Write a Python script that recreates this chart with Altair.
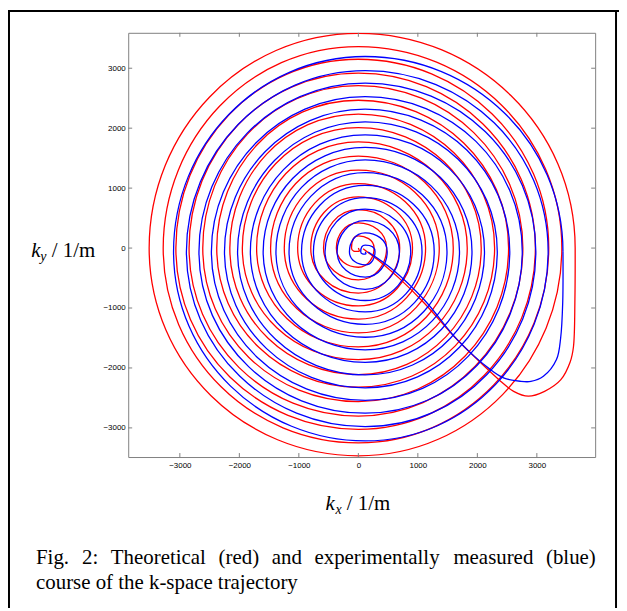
import altair as alt
import pandas as pd

# ---------------- data (k-space, 1/m) ----------------
# Theoretical trajectory (red): crossings of the spiral with the lines through its centre
red_cx, red_cy = 0, 0
red_right_kx = [0, 265, 475, 695, 910, 1130, 1360, 1595, 1830, 2065, 2290, 2525, 2765, 2975, 3200, 3420, 3644]
red_bottom_ky = [-55, -320, -530, -750, -965, -1185, -1415, -1650, -1862, -2111, -2320, -2560, -2803, -3023, -3250, -3466]
red_left_kx = [-115, -370, -585, -800, -1020, -1245, -1475, -1710, -1950, -2160, -2380, -2615, -2845, -3067, -3280, -3516]
red_top_ky = [205, 420, 640, 855, 1075, 1300, 1535, 1770, 2010, 2235, 2466, 2710, 2919, 3150, 3361, 3582]
# tangent guides before the first and after the last crossing (continuation of the spiral)
red_guide_start = (-40, 40)
red_guide_end = (0, -3691)
# rewinder (hook back to the centre)
red_rewind_kx = [3644, 3640, 3615, 3560, 3400, 3130, 2857, 2610, 2390, 2000, 1610, 1110, 720, 335, 80]
red_rewind_ky = [0, -850, -1650, -1900, -2200, -2390, -2471, -2390, -2220, -1860, -1475, -920, -535, -205, -10]

# Measured trajectory (blue)
blue_cx, blue_cy = 115, -60
blue_right_kx = [115, 280, 485, 690, 880, 1070, 1275, 1490, 1700, 1910, 2120, 2335, 2545, 2755, 2983, 3190, 3439]
blue_bottom_ky = [-100, -280, -485, -688, -875, -1065, -1272, -1488, -1697, -1906, -2117, -2332, -2540, -2755, -2980, -3217]
blue_left_kx = [40, -150, -357, -560, -755, -955, -1165, -1385, -1600, -1815, -2030, -2250, -2470, -2679, -2890, -3106]
blue_top_ky = [50, 255, 459, 650, 841, 1045, 1260, 1471, 1680, 1890, 2106, 2317, 2525, 2753, 2960, 3196]
blue_guide_start = (75, -20)
blue_guide_end = (115, -3427)
blue_rewind_kx = [3439, 3435, 3400, 3330, 3110, 2900, 2718, 2440, 2220, 1665, 1110, 555, 165]
blue_rewind_ky = [-60, -900, -1500, -1860, -2140, -2225, -2222, -2166, -2028, -1531, -867, -342, -66]

x_ticks = [-3000, -2000, -1000, 0, 1000, 2000, 3000]
y_ticks = [-3000, -2000, -1000, 0, 1000, 2000, 3000]

caption_line1 = ["Fig.", "2:", "Theoretical", "(red)", "and", "experimentally", "measured", "(blue)"]
caption_line2 = "course of the k-space trajectory"

# ---------------- layout ----------------
W, H = 470, 427
PAD = {"left": 121, "top": 23, "right": 24, "bottom": 152}
X_DOMAIN = [-3868, 3980]
Y_DOMAIN = [-3486, 3591]
GRAY = "#808080"
RED = "#ff0000"
BLUE = "#0000ff"
caption_x = [-92.8, -46.5, -17.5, 91, 144.5, 187.5, 327.3, 420.5]


def spiral_frame(cx, cy, right, bottom, left, top, g0, g1):
    xs, ys = [g0[0]], [g0[1]]
    for k in range(len(top)):
        xs += [right[k], cx, left[k], cx]
        ys += [cy, bottom[k], cy, top[k]]
    xs += [right[len(top)], g1[0]]
    ys += [cy, g1[1]]
    return pd.DataFrame({"kx": xs, "ky": ys, "i": range(len(xs))})


def path_frame(kx, ky):
    return pd.DataFrame({"kx": kx, "ky": ky, "i": range(len(kx))})


xs = alt.Scale(domain=X_DOMAIN, nice=False, zero=False)
ys = alt.Scale(domain=Y_DOMAIN, nice=False, zero=False)
ax_x = alt.Axis(values=x_ticks, format="d", title=None, ticks=False, tickSize=0, domain=False,
                grid=False, labelFont="Liberation Sans", labelFontSize=8, labelColor="black",
                labelPadding=5)
ax_y = alt.Axis(values=y_ticks, format="d", title=None, ticks=False, tickSize=0, domain=False,
                grid=False, labelFont="Liberation Sans", labelFontSize=8, labelColor="black",
                labelPadding=3)


def spiral_layer(df, color):
    return alt.Chart(df).mark_line(
        color=color, strokeWidth=1.3, interpolate="cardinal-open", tension={"expr": "-0.657"}, clip=True
    ).encode(
        x=alt.X("kx:Q", scale=xs, axis=ax_x),
        y=alt.Y("ky:Q", scale=ys, axis=ax_y),
        order=alt.Order("i:Q"),
    )


def rewind_layer(df, color):
    return alt.Chart(df).mark_line(
        color=color, strokeWidth=1.3, interpolate="catmull-rom", clip=True
    ).encode(
        x=alt.X("kx:Q", scale=xs, axis=ax_x),
        y=alt.Y("ky:Q", scale=ys, axis=ax_y),
        order=alt.Order("i:Q"),
    )


red_sp = spiral_frame(red_cx, red_cy, red_right_kx, red_bottom_ky, red_left_kx, red_top_ky,
                      red_guide_start, red_guide_end)
blue_sp = spiral_frame(blue_cx, blue_cy, blue_right_kx, blue_bottom_ky, blue_left_kx, blue_top_ky,
                       blue_guide_start, blue_guide_end)

layers = [
    spiral_layer(red_sp, RED),
    rewind_layer(path_frame(red_rewind_kx, red_rewind_ky), RED),
    spiral_layer(blue_sp, BLUE),
    rewind_layer(path_frame(blue_rewind_kx, blue_rewind_ky), BLUE),
]

# inward ticks on all four sides
xt = pd.DataFrame({"t": x_ticks})
yt = pd.DataFrame({"t": y_ticks})
for y0, y1 in [(H, H - 4), (0, 4)]:
    layers.append(alt.Chart(xt).mark_rule(color=GRAY, strokeWidth=1).encode(
        x=alt.X("t:Q", scale=xs, axis=ax_x), y=alt.value(y0), y2=alt.value(y1)))
for x0, x1 in [(0, 4), (W - 4, W)]:
    layers.append(alt.Chart(yt).mark_rule(color=GRAY, strokeWidth=1).encode(
        y=alt.Y("t:Q", scale=ys, axis=ax_y), x=alt.value(x0), x2=alt.value(x1)))

one = alt.Data(values=[{"a": 1}])


def txt(s, x, y, size=21, style="normal"):
    return alt.Chart(one).mark_text(
        font="Liberation Serif", fontSize=size, fontStyle=style, align="left",
        baseline="alphabetic", color="black"
    ).encode(x=alt.value(x), y=alt.value(y), text=alt.value(s))


# axis titles  k_y / 1/m  and  k_x / 1/m
layers += [
    txt("k", -97.6, 226, style="italic"),
    txt("y", -88.5, 230, size=14, style="italic"),
    txt("/ 1/m", -77, 226),
    txt("k", 198.6, 480, style="italic"),
    txt("x", 208.6, 484, size=14, style="italic"),
    txt("/ 1/m", 220, 480),
]
# caption (justified first line)
for w, x in zip(caption_line1, caption_x):
    layers.append(txt(w, x, 535))
layers.append(txt(caption_line2, -92.8, 560))


# figure frame
def rule(x, x2, y, y2):
    return alt.Chart(one).mark_rule(color="black", strokeWidth=2).encode(
        x=alt.value(x), x2=alt.value(x2), y=alt.value(y), y2=alt.value(y2))


layers += [
    rule(-121, W + PAD["right"], -22, -22),
    rule(-120, -120, -22, H + PAD["bottom"]),
    rule(491, 491, -22, H + PAD["bottom"]),
]

chart = alt.layer(*layers).properties(
    width=W, height=H, padding=PAD, autosize=alt.AutoSizeParams(type="none"),
    background="white",
).configure_view(stroke=GRAY, strokeWidth=1)

chart.save("out.html", embed_options={"renderer": "svg", "actions": False})
